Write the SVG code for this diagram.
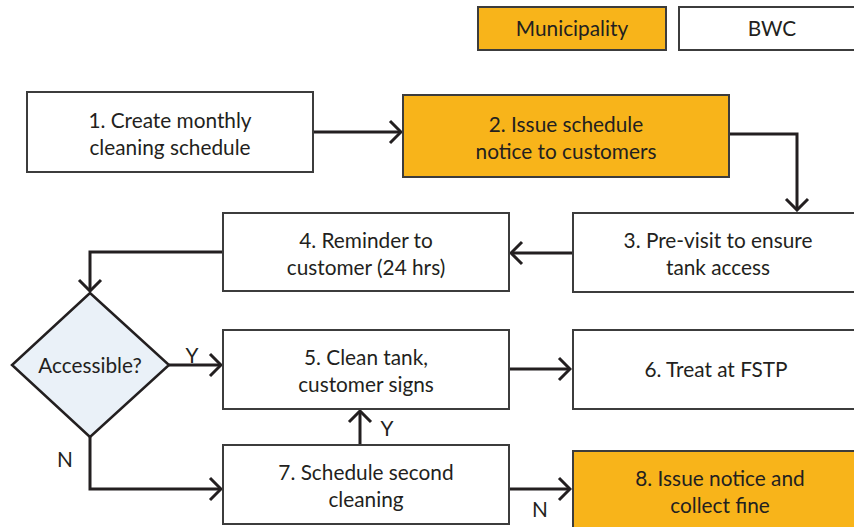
<svg xmlns="http://www.w3.org/2000/svg" width="854" height="527" viewBox="0 0 854 527">
  <style>
    .box { fill: #ffffff; stroke: #3c3c3c; stroke-width: 2; }
    .muni { fill: #F8B41A; stroke: #3c3c3c; stroke-width: 2; }
    .dec { fill: #EAF1F8; stroke: #231F20; stroke-width: 2.5; stroke-linejoin: miter; }
    .lbl { font-family: Lato, "Open Sans", "Liberation Sans", sans-serif; font-size: 20.8px; fill: #231F20; text-anchor: middle; }
    .yn { font-family: Lato, "Open Sans", "Liberation Sans", sans-serif; font-size: 20.8px; fill: #231F20; text-anchor: middle; }
    .link { fill: none; stroke: #231F20; stroke-width: 3; stroke-linejoin: miter; }
  </style>
  <defs>
    <marker id="chev" markerUnits="userSpaceOnUse" viewBox="-16 -14 18 28" markerWidth="18" markerHeight="28" refX="0" refY="0" orient="auto">
      <path d="M-11,-11 L0,0 L-11,11" fill="none" stroke="#231F20" stroke-width="3" stroke-linejoin="miter"/>
    </marker>
  </defs>

  <rect width="854" height="527" fill="#ffffff"/>

  <!-- legend -->
  <g id="legend-municipality">
    <rect class="muni" x="478" y="7" width="188" height="43"/>
    <text class="lbl" x="572" y="36">Municipality</text>
  </g>
  <g id="legend-bwc">
    <rect class="box" x="679" y="7" width="188" height="43"/>
    <text class="lbl" x="772" y="36">BWC</text>
  </g>

  <!-- connectors -->
  <g id="connectors">
    <path class="link" d="M313,132 H401" marker-end="url(#chev)"/>
    <path class="link" d="M729,134 H797 V210" marker-end="url(#chev)"/>
    <path class="link" d="M573,253 H511" marker-end="url(#chev)"/>
    <path class="link" d="M223,252 H90 V291" marker-end="url(#chev)"/>
    <path class="link" d="M169,365 H221" marker-end="url(#chev)"/>
    <path class="link" d="M90,437 V489 H221" marker-end="url(#chev)"/>
    <path class="link" d="M508,369 H570" marker-end="url(#chev)"/>
    <path class="link" d="M360,445 V411" marker-end="url(#chev)"/>
    <path class="link" d="M508,489 H570" marker-end="url(#chev)"/>
    <text class="yn" x="192" y="363">Y</text>
    <text class="yn" x="65" y="467">N</text>
    <text class="yn" x="387" y="436">Y</text>
    <text class="yn" x="540" y="517">N</text>
  </g>

  <g id="step1">
    <rect class="box" x="27" y="92" width="286" height="80"/>
    <text class="lbl" x="170" y="128">1. Create monthly</text>
    <text class="lbl" x="170" y="155">cleaning schedule</text>
  </g>
  <g id="step2">
    <rect class="muni" x="403" y="95" width="326" height="82"/>
    <text class="lbl" x="566" y="132">2. Issue schedule</text>
    <text class="lbl" x="566" y="159">notice to customers</text>
  </g>
  <g id="step3">
    <rect class="box" x="573" y="213" width="288" height="79"/>
    <text class="lbl" x="718" y="248">3. Pre-visit to ensure</text>
    <text class="lbl" x="718" y="275">tank access</text>
  </g>
  <g id="step4">
    <rect class="box" x="223" y="213" width="286" height="78"/>
    <text class="lbl" x="366" y="248">4. Reminder to</text>
    <text class="lbl" x="366" y="275">customer (24 hrs)</text>
  </g>
  <g id="decision">
    <polygon class="dec" points="90,293 169,365 90,437 12,365"/>
    <text class="lbl" x="90" y="373">Accessible?</text>
  </g>
  <g id="step5">
    <rect class="box" x="223" y="330" width="286" height="79"/>
    <text class="lbl" x="366" y="365">5. Clean tank,</text>
    <text class="lbl" x="366" y="392">customer signs</text>
  </g>
  <g id="step6">
    <rect class="box" x="573" y="330" width="288" height="79"/>
    <text class="lbl" x="716" y="377">6. Treat at FSTP</text>
  </g>
  <g id="step7">
    <rect class="box" x="223" y="445" width="286" height="79"/>
    <text class="lbl" x="366" y="480">7. Schedule second</text>
    <text class="lbl" x="366" y="507">cleaning</text>
  </g>
  <g id="step8">
    <rect class="muni" x="573" y="451" width="288" height="82"/>
    <text class="lbl" x="720" y="486">8. Issue notice and</text>
    <text class="lbl" x="720" y="513">collect fine</text>
  </g>
</svg>
